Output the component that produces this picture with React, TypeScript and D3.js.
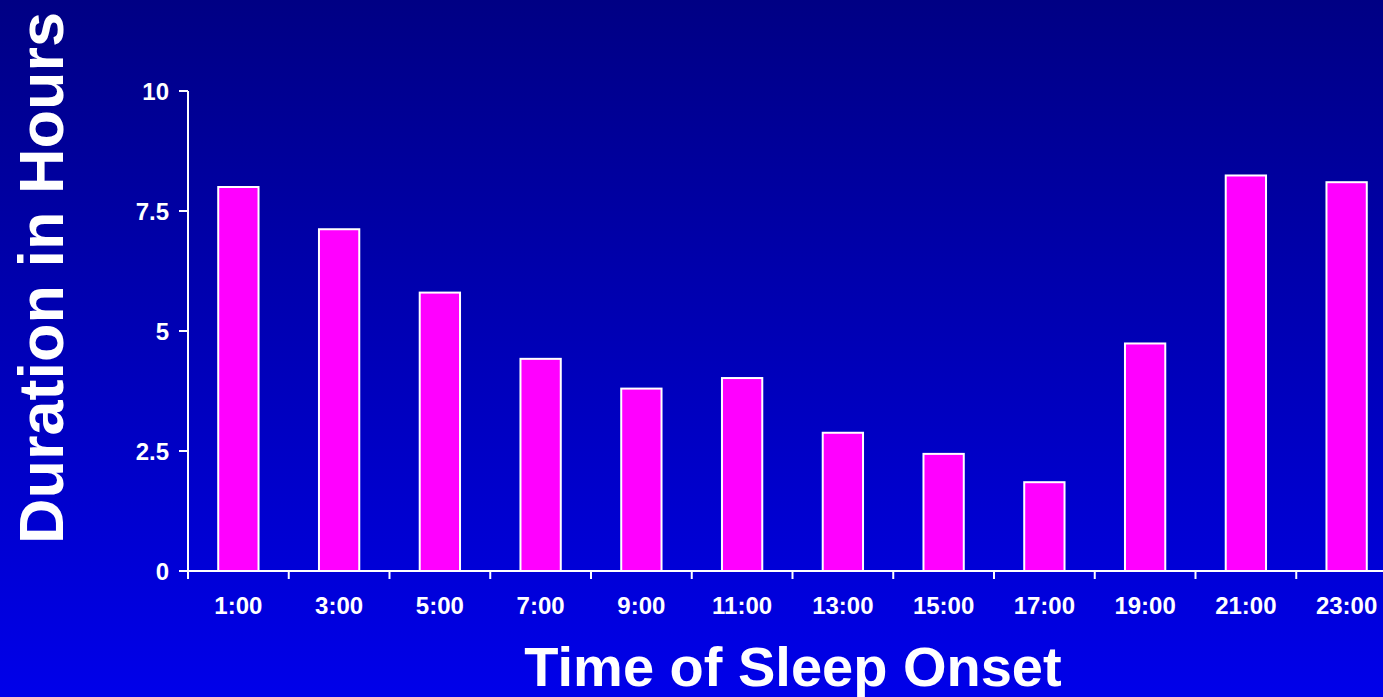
import React, { useEffect } from "react";
import * as d3 from "d3";

const categories = ["1:00", "3:00", "5:00", "7:00", "9:00", "11:00", "13:00", "15:00", "17:00", "19:00", "21:00", "23:00"];
const durations = [8.0, 7.12, 5.8, 4.42, 3.8, 4.02, 2.88, 2.44, 1.85, 4.74, 8.24, 8.1];
const yTicks = [0, 2.5, 5, 7.5, 10];
const yTickLabels = ["0", "2.5", "5", "7.5", "10"];
const yTitle = "Duration in Hours";
const xTitle = "Time of Sleep Onset";

const W = 1383;
const H = 697;
const left = 188;
const step = 100.75;
const top = 91;
const bottom = 571;
const font = "'Liberation Sans', Arial, Helvetica, sans-serif";

export default function App() {
  useEffect(() => {
    document.body.style.margin = "0";
  }, []);

  const cell = d3.scaleBand<string>().domain(categories).range([left, left + step * categories.length]).padding(0);
  const x = d3.scaleBand<string>().domain(categories).range([left, left + step * categories.length]).paddingInner(0.6).paddingOuter(0.3);
  const y = d3.scaleLinear().domain([0, 10]).range([bottom, top]);

  return (
    <svg width={W} height={H} style={{ display: "block" }} fontFamily={font}>
      <defs>
        <linearGradient id="bg" x1="0" y1="0" x2="0" y2="1">
          <stop offset="0%" stopColor="#000084" />
          <stop offset="100%" stopColor="#0000ea" />
        </linearGradient>
      </defs>
      <rect x={0} y={0} width={W} height={H} fill="url(#bg)" />

      {categories.map((c, i) => (
        <rect
          key={c}
          x={x(c)!}
          y={y(durations[i])}
          width={x.bandwidth()}
          height={y(0) - y(durations[i])}
          fill="#ff00ff"
          stroke="#ffffff"
          strokeWidth={2}
        />
      ))}

      {/* Y axis */}
      <line x1={left} x2={left} y1={y(10)} y2={y(0)} stroke="#fff" strokeWidth={2} />
      {yTicks.map((t, i) => (
        <g key={t}>
          <line x1={left - 9} x2={left} y1={y(t)} y2={y(t)} stroke="#fff" strokeWidth={2} />
          <text x={left - 19} y={y(t)} dy="0.36em" textAnchor="end" fill="#fff" fontWeight="bold" fontSize={24}>
            {yTickLabels[i]}
          </text>
        </g>
      ))}

      {/* X axis */}
      <line x1={left} x2={left + step * categories.length} y1={y(0)} y2={y(0)} stroke="#fff" strokeWidth={2} />
      {categories.map((c) => (
        <line key={"t" + c} x1={cell(c)!} x2={cell(c)!} y1={y(0)} y2={y(0) + 8} stroke="#fff" strokeWidth={2} />
      ))}
      {categories.map((c) => (
        <text key={"l" + c} x={cell(c)! + cell.bandwidth() / 2} y={614} textAnchor="middle" fill="#fff" fontWeight="bold" fontSize={24}>
          {c}
        </text>
      ))}

      <text
        transform={`translate(63, 278) rotate(-90)`}
        textAnchor="middle"
        fill="#fff"
        fontWeight="bold"
        fontSize={63}
      >
        {yTitle}
      </text>
      <text x={793} y={686} textAnchor="middle" fill="#fff" fontWeight="bold" fontSize={56}>
        {xTitle}
      </text>
    </svg>
  );
}
